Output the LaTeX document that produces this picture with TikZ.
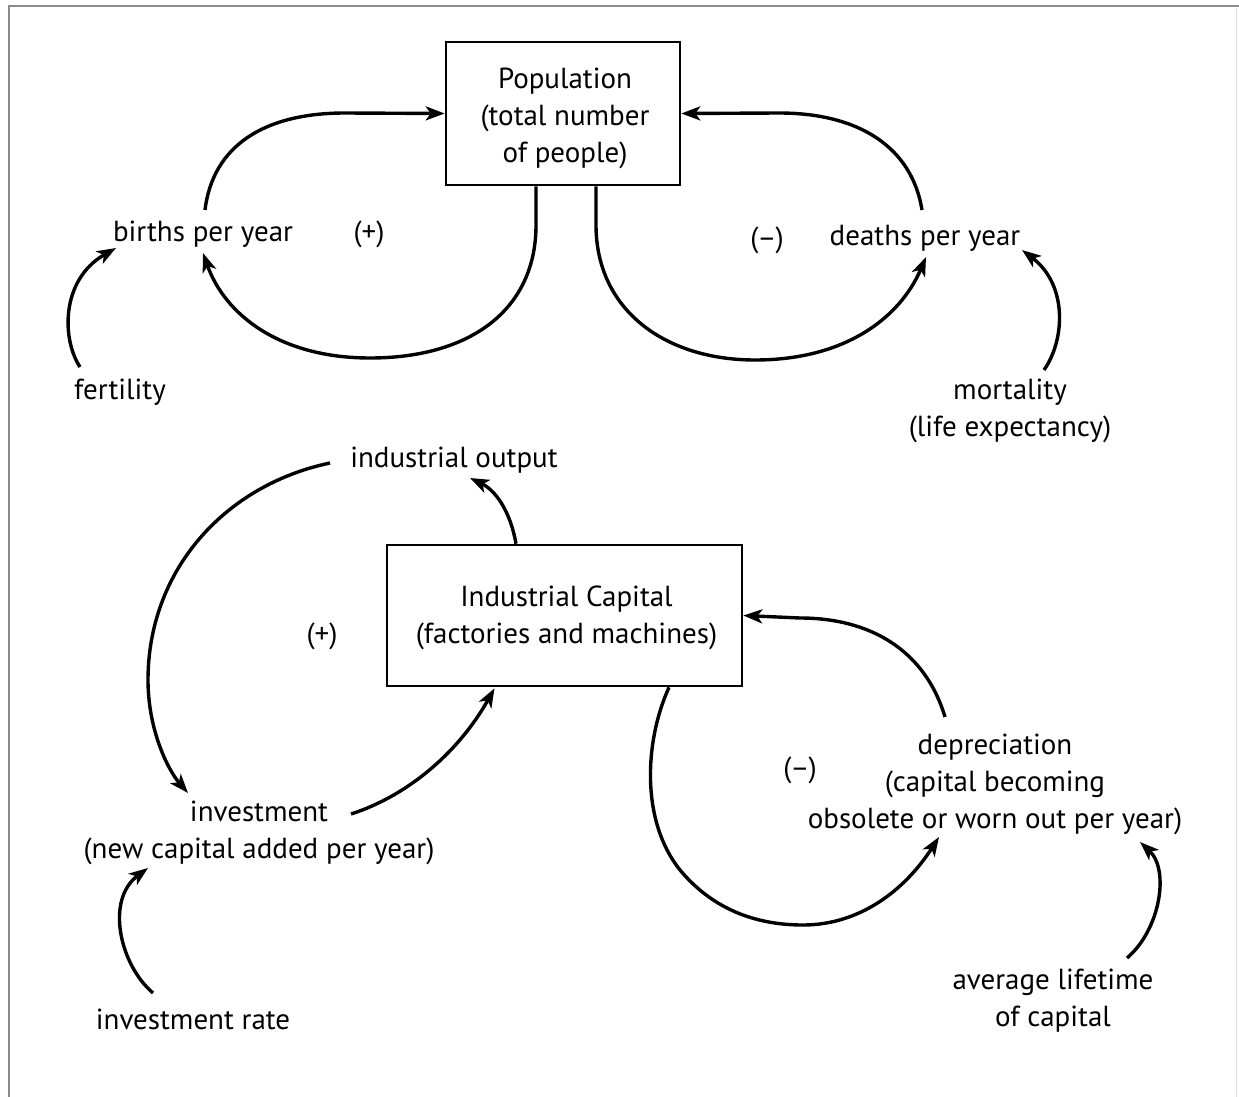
\documentclass[tikz,border=0pt]{standalone}
\usepackage{fontspec}
\setmainfont{PT Sans}
\usetikzlibrary{arrows.meta,calc}
\begin{document}
\begin{tikzpicture}[x=1pt,y={(0pt,-1pt)},
  txt/.style={inner sep=0pt,align=center,text=black,font=\fontsize{29}{37}\selectfont},
  stock/.style={draw=black,line width=2.6pt,inner sep=0pt},
  link/.style={line width=3.4pt,draw=black,-{Stealth[length=19pt,width=14pt,inset=5pt]}},
  frame/.style={draw=black!45,line width=2.4pt}]
\useasboundingbox (0,0) rectangle (1239,1097);
% frame
\draw[frame] (9,1097) -- (9,6) -- (1239,6);
\draw[draw=black!12,line width=1pt] (1236,8) -- (1236,1097);
% stocks
\node[stock,minimum width=234pt,minimum height=143pt] (pop) at (563,113.5) {};
\node[txt] (poptext) at ($(pop)+(2,5)$) {Population\\(total number\\of people)};
\node[stock,minimum width=355pt,minimum height=141pt] (cap) at (564.5,615.5) {};
\node[txt] (captext) at ($(cap)+(2,2)$) {Industrial Capital\\(factories and machines)};
% labels
\node[txt] (births) at (203,234) {births per year};
\node[txt] (plusA) at (369,234) {(+)};
\node[txt] (minusA) at (767,240) {(–)};
\node[txt] (deaths) at (925,238) {deaths per year};
\node[txt] (fert) at (120,392) {fertility};
\node[txt] (mort) at (1010,411) {mortality\\(life expectancy)};
\node[txt] (indout) at (454,460) {industrial output};
\node[txt] (plusB) at (322,636) {(+)};
\node[txt] (minusB) at (800,770) {(–)};
\node[txt] (invest) at (259,833) {investment\\(new capital added per year)};
\node[txt] (deprec) at (995,784) {depreciation\\(capital becoming\\obsolete or worn out per year)};
\node[txt] (invrate) at (193,1019) {investment rate};
\node[txt] (avglife) at (1053,1001) {average lifetime\\of capital};
% population loops
\draw[link] ($(births)+(2,-24)$) .. controls (213,145) and (265,113) .. (345,113) -- (pop.west);
\draw[link] ($(pop.south)+(-27,0)$) -- (536,225) .. controls (536,310) and (470,358) .. (370,358) .. controls (280,358) and (225,315) .. ($(births)+(0,19)$);
\draw[link] ($(fert)+(-40,-25)$) .. controls (62,340) and (60,280) .. ($(births)+(-87,14)$);
\draw[link] ($(deaths)+(-3,-28)$) .. controls (912,148) and (860,113) .. (779,113) -- (pop.east);
\draw[link] ($(pop.south)+(33,0)$) -- (596,225) .. controls (596,310) and (665,360) .. (755,360) .. controls (845,360) and (900,318) .. ($(deaths)+(1,19)$);
\draw[link] ($(mort)+(34,-41)$) .. controls (1065,340) and (1068,285) .. ($(deaths)+(97,12)$);
% capital loops
\draw[link] ($(cap.north)+(-48.5,0)$) .. controls (510,510) and (495,490) .. ($(indout)+(16,18)$);
\draw[link] ($(indout)+(-124,3)$) .. controls (225,485) and (148,570) .. (148,680) .. controls (148,730) and (168,770) .. ($(invest)+(-71,-40)$);
\draw[link] ($(invest)+(92,-19)$) .. controls (410,795) and (460,750) .. ($(cap.south)+(-70,1)$);
\draw[link] ($(invrate)+(-40,-26)$) .. controls (120,965) and (105,900) .. ($(invest)+(-111,35)$);
\draw[link] ($(deprec)+(-50,-67)$) .. controls (925,650) and (870,618) .. (800,618) -- (cap.east);
\draw[link] ($(cap.south)+(104.5,0)$) .. controls (645,740) and (640,820) .. (680,870) .. controls (715,912) and (760,925) .. (803,925) .. controls (860,925) and (905,890) .. ($(deprec)+(-56,53)$);
\draw[link] ($(avglife)+(74,-43)$) .. controls (1160,930) and (1170,870) .. ($(deprec)+(145,58)$);
\end{tikzpicture}
\end{document}
